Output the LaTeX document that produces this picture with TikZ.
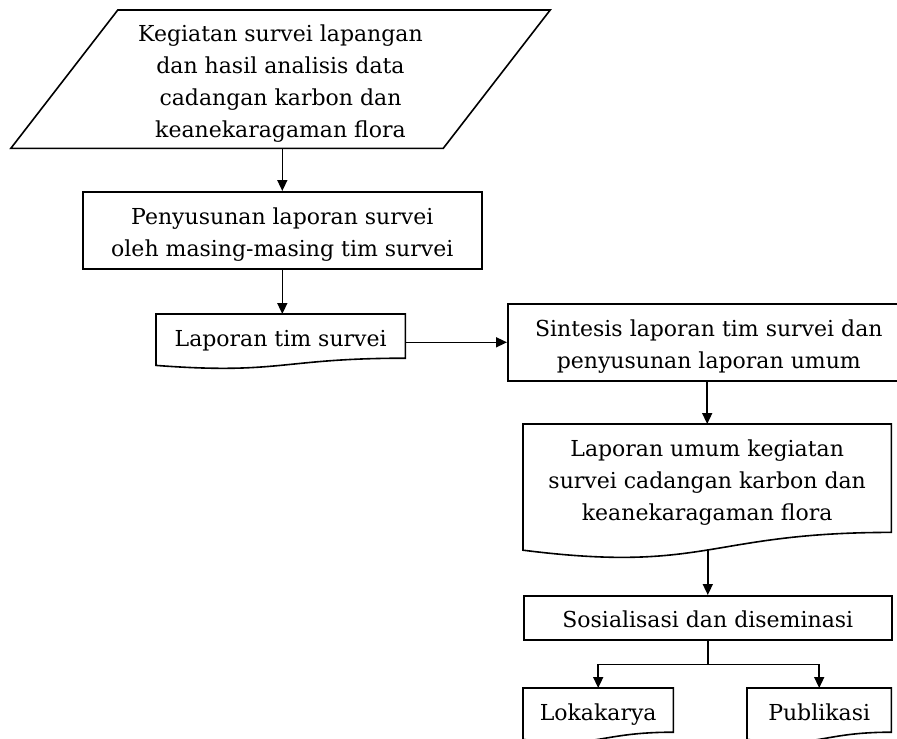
\documentclass[tikz,border=0pt]{standalone}
\usepackage{fontspec}
\setmainfont{DejaVu Serif}
\usetikzlibrary{arrows.meta,calc}

% line strut: 26bp above the baseline, 6bp below
\newcommand\lstrut{\rule[-6bp]{0pt}{32bp}}

\tikzset{
  base/.style={inner sep=0pt, align=center, font=\fontsize{22bp}{32bp}\selectfont},
  outline/.style={line width=1.6bp, line join=miter},
  procbox/.style={base, draw, outline, rectangle},
  docbox/.style={base, rectangle},
  flowarrow/.style={-{Triangle[length=11bp,width=10bp]}, line width=1.6bp},
  flowline/.style={line width=1.6bp},
}

% document symbol: flat top, wavy bottom (#2 = full height of the symbol)
\newcommand\docoutline[2]{%
  \draw[outline] (#1.north west) -- (#1.north east) -- (#1.south east)
    .. controls (#1.south) and ($(#1.south)+(0,0.3055*#2)$)
    .. ($(#1.south west)+(0,0.132*#2)$) -- cycle;}

\begin{document}
\begin{tikzpicture}[x=1bp,y=-1bp]
  \useasboundingbox (0,0) rectangle (897,739);
  \clip (0,0) rectangle (897,739);

  % input data (parallelogram)
  \node[docbox, minimum width=539bp, minimum height=138bp, anchor=north]
    (input) at (280.5,10)
    {\lstrut Kegiatan survei lapangan\\dan hasil analisis data\\cadangan karbon dan\\keanekaragaman flora\lstrut};
  \draw[outline] ([xshift=107bp]input.north west) -- (input.north east)
    -- ([xshift=-107bp]input.south east) -- (input.south west) -- cycle;

  % team reports
  \node[procbox, minimum width=399bp, minimum height=77bp, anchor=north west]
    (tim) at (82,191) {\lstrut Penyusunan laporan survei\\oleh masing-masing tim survei\lstrut};

  \node[docbox, minimum width=249bp, minimum height=43.8bp, anchor=north west]
    (lapTim) at (156,314) {\lstrut Laporan tim survei};
  \docoutline{lapTim}{54.6}

  % synthesis
  \node[procbox, minimum width=402bp, minimum height=77bp, anchor=north west]
    (sintesis) at (507,303) {\lstrut Sintesis laporan tim survei dan\\penyusunan laporan umum\lstrut};

  \node[docbox, minimum width=368bp, minimum height=108bp, anchor=north west]
    (umum) at (523,424) {\lstrut Laporan umum kegiatan\\survei cadangan karbon dan\\keanekaragaman flora\lstrut};
  \docoutline{umum}{134.7}

  \node[procbox, minimum width=368bp, minimum height=44bp, anchor=north west]
    (sosial) at (523,595) {\lstrut Sosialisasi dan diseminasi};

  % outputs
  \node[docbox, minimum width=150bp, minimum height=43.8bp, anchor=north west]
    (loka) at (523,688) {\lstrut Lokakarya};
  \docoutline{loka}{54.6}

  \node[docbox, minimum width=144bp, minimum height=43.8bp, anchor=north west]
    (publ) at (747,688) {\lstrut Publikasi};
  \docoutline{publ}{54.6}

  % connectors
  \draw[flowarrow] (tim.north |- input.south) -- (tim.north);
  \draw[flowarrow] (tim.south) -- (tim.south |- lapTim.north);
  \draw[flowarrow] (sintesis.west -| lapTim.east) -- (sintesis.west);
  \draw[flowarrow] (sintesis.south -| umum.north) -- (umum.north);
  \draw[flowarrow] (sosial.north |- {$(umum.south)+(0,17.6)$}) -- (sosial.north);
  \coordinate (split) at ($(sosial.south)+(0,24)$);
  \draw[flowline] (sosial.south) -- (split);
  \draw[flowarrow] (split) -| (loka.north);
  \draw[flowarrow] (split) -| (publ.north);
\end{tikzpicture}
\end{document}
